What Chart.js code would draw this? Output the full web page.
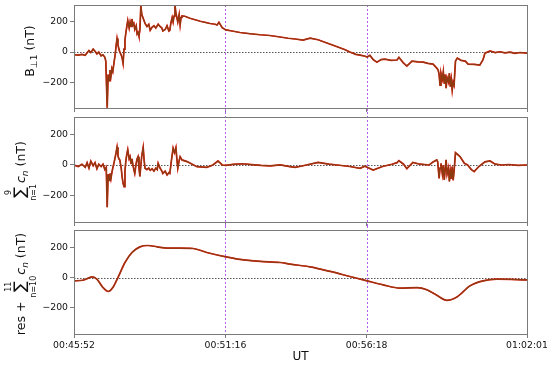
<!DOCTYPE html>
<html>
<head>
<meta charset="utf-8">
<script src="https://cdn.jsdelivr.net/npm/chart.js@4.4.0/dist/chart.umd.min.js"></script>
<style>
  html, body { margin: 0; padding: 0; background: #fff; }
  #wrap { position: relative; width: 550px; height: 365px; }
  canvas { position: absolute; left: 0; }
</style>
</head>
<body>
<div id="wrap">
  <canvas id="panel_b" width="550" height="112" style="top:0px"></canvas>
  <canvas id="panel_c" width="550" height="114" style="top:112px"></canvas>
  <canvas id="panel_res" width="550" height="139" style="top:226px"></canvas>
</div>
<script>
// time axis: seconds after 00:45:52
const xTicks = [0, 324, 626, 969];
const xTickLabels = ["00:45:52", "00:51:16", "00:56:18", "01:02:01"];
const markerTimes = [324, 626];
const yTicks = [-200, 0, 200];
const yMin = -372, yMax = 313;

// B perp 1 (nT)
const bT = [0,9,17,24,28,32,36,41,45,49,53,58,62,66,68,71,73,75,77,79,81,83,86,88,90,92,94,96,98,101,103,105,107,109,111,113,115,118,120,122,124,126,128,130,133,135,137,139,141,143,145,148,152,156,160,163,167,171,175,180,184,188,190,195,199,203,205,207,210,212,214,216,218,220,222,225,227,229,231,237,248,259,270,280,291,302,306,310,317,325,338,355,376,398,419,441,458,473,490,505,522,541,563,580,590,603,612,623,627,633,640,648,657,665,678,691,695,704,712,723,736,747,757,768,776,779,781,783,785,788,790,792,794,796,798,801,803,805,807,809,811,813,816,820,828,837,843,856,868,875,879,890,901,911,922,933,943,954,969];
const bPerp = [-18,-20,-15,-22,-5,10,-3,20,5,-12,0,-25,-18,-35,-60,-370,-150,-190,-120,-160,-110,-130,-60,-20,40,90,50,20,0,-20,-40,-75,20,80,130,170,210,160,200,170,220,180,190,150,175,120,130,105,150,310,250,225,190,170,185,145,165,175,160,185,170,160,140,150,175,140,145,190,230,200,240,310,260,230,200,250,180,230,240,238,225,215,205,198,190,185,180,198,162,147,140,130,122,115,110,100,92,87,80,93,82,60,35,15,0,-15,-20,-28,-33,-22,-50,-67,-50,-47,-55,-53,-35,-70,-93,-60,-65,-67,-75,-80,-107,-120,-150,-220,-140,-180,-130,-210,-150,-240,-170,-200,-140,-230,-180,-253,-200,-220,-60,-40,-55,-60,-80,-82,-87,-50,-7,7,-3,2,-5,0,-8,-3,-7];

// sum of c_n, n = 1..9 (nT)
const cT = [0,9,17,24,28,32,36,41,45,49,53,58,62,66,69,71,73,75,77,79,81,83,86,88,90,92,94,96,98,101,103,105,107,109,111,113,115,118,120,122,124,126,128,130,133,135,137,139,141,143,145,148,150,152,156,160,163,167,171,175,178,180,184,188,190,195,199,203,205,208,212,215,218,220,222,225,227,231,242,263,284,297,308,317,325,340,360,380,400,420,441,462,473,490,522,545,563,590,612,622,627,640,660,680,691,695,705,712,725,740,760,768,776,778,781,783,785,788,790,792,794,796,798,801,803,805,807,809,811,813,816,820,826,835,842,850,856,866,879,890,901,915,930,950,969];
const cSum = [0,-10,5,-15,15,-20,25,-5,15,-25,5,-10,5,-30,-15,-276,-60,-100,-55,-90,-50,-20,20,50,80,115,60,40,33,-20,-80,-120,-141,-40,30,70,100,40,54,10,40,0,-30,-55,10,40,54,-20,-75,0,60,115,30,-22,-30,-20,-35,-25,-40,-20,-30,11,-20,-40,-55,-40,-65,-50,-55,20,110,80,113,40,-22,30,54,33,22,-11,-15,0,26,0,-2,4,8,2,-3,-6,0,-11,-15,-5,17,5,0,-10,-22,-8,-15,-33,-10,5,15,28,5,-24,17,5,0,20,33,20,-87,-20,10,-60,0,-98,-30,33,-60,-20,-108,-40,-90,-10,-100,-40,80,70,54,11,0,-30,-43,-10,20,26,5,0,3,-2,0];

// res + sum of c_n, n = 10..11 (nT)
const rT = [0,19,39,49,62,73,83,94,109,124,141,158,178,199,227,255,284,325,355,398,441,462,505,548,590,627,661,697,734,755,776,798,819,847,875,905,969];
const rSum = [-22,-18,4,-11,-66,-92,-66,0,99,165,202,211,202,194,194,191,165,136,119,106,99,88,70,40,7,-22,-48,-70,-66,-81,-117,-150,-128,-55,-22,-11,-15];

const fam = "DejaVu Sans";
const frameColor = "#7a7a7a";
const tickFont = { family: fam, size: 9.3 };

function pts(times, vals) {
    return times.map((t, i) => ({ x: t, y: vals[i] }));
}

function fontStr(r) {
    return (r.italic ? "italic " : "") + r.size + "px " + fam;
}

// y label made of small runs, drawn rotated
function drawLabel(ctx, runs, bx, cy) {
    ctx.save();
    ctx.fillStyle = "#111";
    ctx.textBaseline = "alphabetic";
    let total = 0;
    runs.forEach(r => {
        ctx.font = fontStr(r);
        let m = ctx.measureText(r.t);
        r.w = m.width;
        r.asc = m.actualBoundingBoxAscent;
        r.desc = m.actualBoundingBoxDescent;
        if (r.over) {
            ctx.font = r.lim + "px " + fam;
            r.w = Math.max(r.w, ctx.measureText(r.over).width, ctx.measureText(r.under).width);
        }
        total += r.w + (r.gap || 0);
    });
    ctx.translate(bx, cy);
    ctx.rotate(-Math.PI / 2);
    let x = -total / 2;
    runs.forEach(r => {
        ctx.font = fontStr(r);
        if (r.over) {
            ctx.textAlign = "center";
            ctx.fillText(r.t, x + r.w / 2, 0);
            ctx.font = r.lim + "px " + fam;
            ctx.fillText(r.over, x + r.w / 2, -r.asc - 2);
            ctx.fillText(r.under, x + r.w / 2, r.desc + r.lim * 0.75 + 1);
        } else {
            ctx.textAlign = "left";
            ctx.fillText(r.t, x, r.dy || 0);
        }
        x += r.w + (r.gap || 0);
    });
    ctx.restore();
}

const guides = {
    id: "guides",
    beforeDatasetsDraw(chart, args, opts) {
        const { ctx, chartArea, scales } = chart;
        ctx.save();
        ctx.lineWidth = 1;
        ctx.strokeStyle = "#555";
        ctx.setLineDash([1.5, 1.5]);
        let y0 = Math.round(scales.y.getPixelForValue(0)) + 0.5;
        ctx.beginPath();
        ctx.moveTo(chartArea.left, y0);
        ctx.lineTo(chartArea.right, y0);
        ctx.stroke();

        let top = opts.ext === "first" ? chartArea.top : 0;
        let bottom = opts.ext === "last" ? chartArea.bottom : chart.height;
        ctx.strokeStyle = "rgb(178, 95, 235)";
        ctx.lineWidth = 1;
        ctx.setLineDash([2, 2]);
        markerTimes.forEach(t => {
            let px = Math.round(scales.x.getPixelForValue(t)) + 0.5;
            ctx.beginPath();
            ctx.moveTo(px, top);
            ctx.lineTo(px, bottom);
            ctx.stroke();
        });
        ctx.restore();
    },
    afterDraw(chart, args, opts) {
        const { ctx, chartArea } = chart;
        ctx.save();
        ctx.strokeStyle = frameColor;
        ctx.lineWidth = 1;
        ctx.strokeRect(chartArea.left + 0.5, chartArea.top + 0.5,
            chartArea.right - chartArea.left, chartArea.bottom - chartArea.top);
        ctx.restore();
        drawLabel(ctx, opts.label, opts.labelX, opts.labelY);
    }
};

function makePanel(id, times, vals, cfg) {
    let showX = cfg.ext === "last";
    return new Chart(document.getElementById(id), {
        type: "line",
        data: {
            datasets: [{
                data: pts(times, vals),
                borderColor: "#8a3c12",
                borderWidth: 1.2,
                pointRadius: 0,
                cubicInterpolationMode: cfg.smooth ? "monotone" : "default",
                tension: 0
            }, {
                data: pts(times, vals),
                borderColor: "#e8140c",
                borderWidth: 1.7,
                pointRadius: 0,
                cubicInterpolationMode: cfg.smooth ? "monotone" : "default",
                tension: 0
            }]
        },
        options: {
            responsive: false,
            animation: false,
            devicePixelRatio: 1,
            layout: { padding: { left: 0, right: 23, top: cfg.padTop, bottom: 0 } },
            plugins: {
                legend: { display: false },
                tooltip: { enabled: false },
                guides: { ext: cfg.ext, label: cfg.label, labelX: cfg.labelX, labelY: cfg.labelY }
            },
            scales: {
                x: {
                    type: "linear",
                    min: 0,
                    max: 969,
                    afterBuildTicks: s => { s.ticks = xTicks.map(v => ({ value: v })); },
                    afterFit: s => { s.height = showX ? 31 : 4; s.paddingLeft = 0; s.paddingRight = 0; },
                    grid: { drawOnChartArea: false, tickLength: 4, color: frameColor },
                    border: { display: false },
                    ticks: {
                        display: showX,
                        autoSkip: false,
                        maxRotation: 0,
                        padding: 2,
                        color: "#111",
                        font: tickFont,
                        callback: (v, i) => xTickLabels[i]
                    },
                    title: {
                        display: showX,
                        text: "UT",
                        color: "#111",
                        font: { family: fam, size: 12 },
                        padding: { top: 0, bottom: 1 }
                    }
                },
                y: {
                    min: yMin,
                    max: yMax,
                    afterBuildTicks: s => { s.ticks = yTicks.map(v => ({ value: v })); },
                    afterFit: s => { s.width = 74; s.paddingTop = 0; s.paddingBottom = 0; },
                    grid: { drawOnChartArea: false, tickLength: 4, color: frameColor },
                    border: { display: false },
                    ticks: {
                        padding: 2,
                        color: "#111",
                        font: tickFont,
                        callback: v => (v < 0 ? "\u2212" + (-v) : "" + v)
                    }
                }
            }
        },
        plugins: [guides]
    });
}

makePanel("panel_b", bT, bPerp, {
    ext: "first", padTop: 5, labelX: 34, labelY: 51,
    label: [
        { t: "B", size: 12.5 },
        { t: "\u22a51", size: 9, dy: 3 },
        { t: " (nT)", size: 12.5 }
    ]
});

makePanel("panel_c", cT, cSum, {
    ext: "mid", padTop: 5, labelX: 25, labelY: 59,
    label: [
        { t: "\u2211", size: 16, over: "9", under: "n=1", lim: 8, gap: 1 },
        { t: "c", size: 12.5, italic: true },
        { t: "n", size: 9, italic: true, dy: 3 },
        { t: " (nT)", size: 12.5 }
    ]
});

makePanel("panel_res", rT, rSum, {
    ext: "last", padTop: 4, smooth: true, labelX: 25, labelY: 58,
    label: [
        { t: "res + ", size: 12.5 },
        { t: "\u2211", size: 16, over: "11", under: "n=10", lim: 8, gap: 1 },
        { t: "c", size: 12.5, italic: true },
        { t: "n", size: 9, italic: true, dy: 3 },
        { t: " (nT)", size: 12.5 }
    ]
});
</script>
</body>
</html>
